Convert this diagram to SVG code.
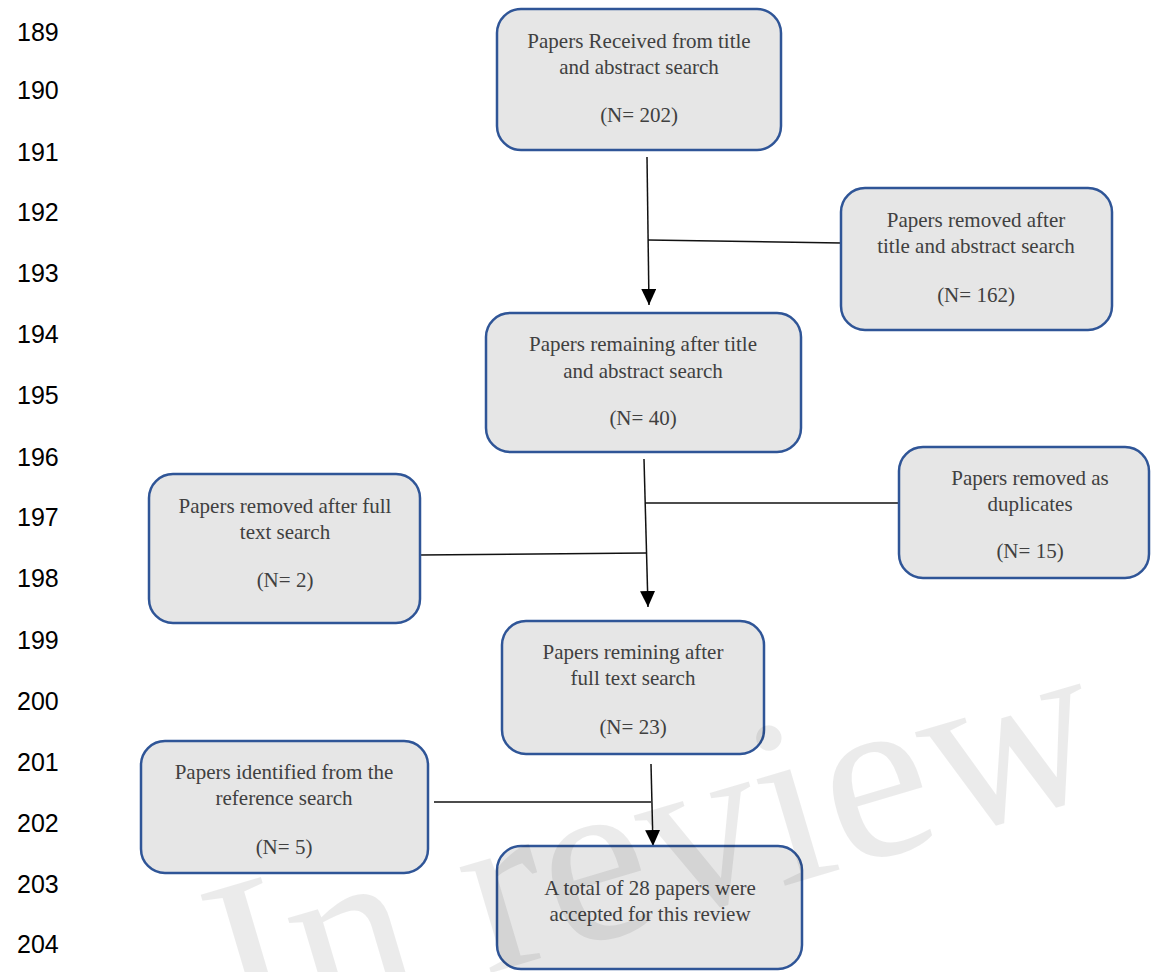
<svg xmlns="http://www.w3.org/2000/svg" width="1151" height="972" viewBox="0 0 1151 972">
<style>
.box{fill:#e6e6e6;stroke:#2f5597;stroke-width:2.5}
.t{font-family:"Liberation Serif","Times New Roman",serif;font-size:21px;fill:#404040;text-anchor:middle}
.ln{font-family:"Liberation Sans",Arial,sans-serif;font-size:25px;fill:#000}
.c{stroke:#111;stroke-width:1.5;fill:none}
.wm{font-family:"Liberation Serif","Times New Roman",serif;font-size:240px;fill:#000;fill-opacity:0.08}
</style>
<defs>
<marker id="arr" viewBox="0 0 16 15" refX="16" refY="7.5" markerWidth="16" markerHeight="15" markerUnits="userSpaceOnUse" orient="auto">
<path d="M0,0 L16,7.5 L0,15 z" fill="#000"/>
</marker>
</defs>
<rect width="1151" height="972" fill="#fff"/>
<g id="line-numbers">
<text class="ln" x="17" y="41">189</text>
<text class="ln" x="17" y="99">190</text>
<text class="ln" x="17" y="161">191</text>
<text class="ln" x="17" y="221">192</text>
<text class="ln" x="17" y="282">193</text>
<text class="ln" x="17" y="343">194</text>
<text class="ln" x="17" y="404">195</text>
<text class="ln" x="17" y="466">196</text>
<text class="ln" x="17" y="526">197</text>
<text class="ln" x="17" y="587">198</text>
<text class="ln" x="17" y="649">199</text>
<text class="ln" x="17" y="710">200</text>
<text class="ln" x="17" y="771">201</text>
<text class="ln" x="17" y="832">202</text>
<text class="ln" x="17" y="893">203</text>
<text class="ln" x="17" y="953">204</text>
</g>
<g id="connectors">
<line class="c" x1="647" y1="157" x2="649" y2="305" marker-end="url(#arr)"/>
<line class="c" x1="648" y1="240" x2="841" y2="243"/>
<line class="c" x1="644" y1="459" x2="648" y2="607" marker-end="url(#arr)"/>
<line class="c" x1="645" y1="503" x2="899" y2="503"/>
<line class="c" x1="420" y1="555" x2="646" y2="553"/>
<line class="c" x1="651" y1="764" x2="653" y2="846" marker-end="url(#arr)"/>
<line class="c" x1="434" y1="802" x2="651" y2="802"/>
</g>
<g id="n1">
<rect class="box" x="497" y="9" width="284" height="141" rx="24"/>
<text class="t" x="639" y="48">Papers Received from title</text>
<text class="t" x="639" y="74">and abstract search</text>
<text class="t" x="639" y="122">(N= 202)</text>
</g>
<g id="n2">
<rect class="box" x="841" y="188" width="271" height="142" rx="24"/>
<text class="t" x="976" y="227">Papers removed after</text>
<text class="t" x="976" y="253">title and abstract search</text>
<text class="t" x="976" y="302">(N= 162)</text>
</g>
<g id="n3">
<rect class="box" x="486" y="313" width="315" height="139" rx="24"/>
<text class="t" x="643" y="351">Papers remaining after title</text>
<text class="t" x="643" y="378">and abstract search</text>
<text class="t" x="643" y="425">(N= 40)</text>
</g>
<g id="n4">
<rect class="box" x="899" y="447" width="250" height="131" rx="24"/>
<text class="t" x="1030" y="485">Papers removed as</text>
<text class="t" x="1030" y="511">duplicates</text>
<text class="t" x="1030" y="558">(N= 15)</text>
</g>
<g id="n5">
<rect class="box" x="149" y="474" width="271" height="149" rx="24"/>
<text class="t" x="285" y="513">Papers removed after full</text>
<text class="t" x="285" y="539">text search</text>
<text class="t" x="285" y="587">(N= 2)</text>
</g>
<g id="n6">
<rect class="box" x="502" y="621" width="262" height="133" rx="24"/>
<text class="t" x="633" y="659">Papers remining after</text>
<text class="t" x="633" y="685">full text search</text>
<text class="t" x="633" y="734">(N= 23)</text>
</g>
<g id="n7">
<rect class="box" x="141" y="741" width="287" height="132" rx="24"/>
<text class="t" x="284" y="779">Papers identified from the</text>
<text class="t" x="284" y="805">reference search</text>
<text class="t" x="284" y="854">(N= 5)</text>
</g>
<g id="n8">
<rect class="box" x="497" y="846" width="305" height="123" rx="24"/>
<text class="t" x="650" y="895">A total of 28 papers were</text>
<text class="t" x="650" y="921">accepted for this review</text>
</g>
<g id="watermark">
<text class="wm" transform="translate(237,1048) rotate(-16.5)" x="0" y="0">In review</text>
</g>
</svg>
